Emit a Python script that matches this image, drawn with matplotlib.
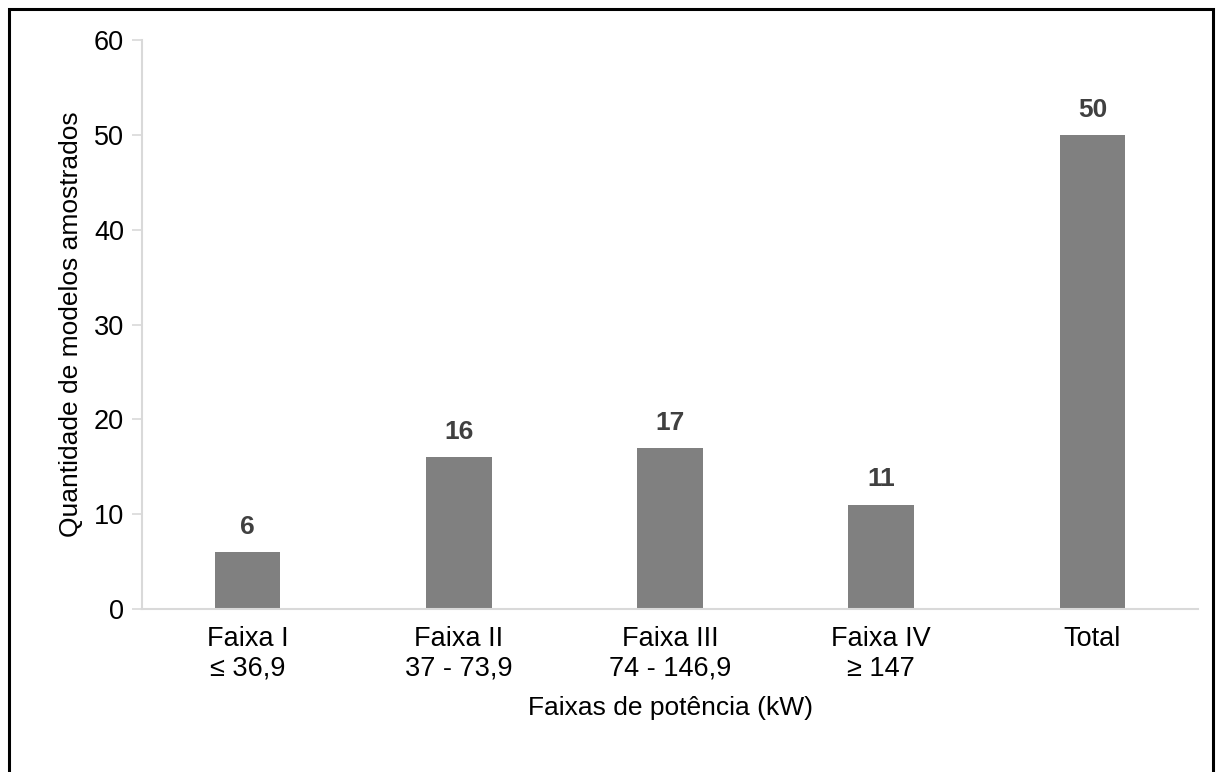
import matplotlib
matplotlib.use("Agg")
import matplotlib.pyplot as plt
from matplotlib.patches import Rectangle

plt.rcParams['font.family'] = ['Liberation Sans', 'DejaVu Sans']

# sample counts per power range
faixas = ["Faixa I\n≤ 36,9", "Faixa II\n37 - 73,9", "Faixa III\n74 - 146,9",
          "Faixa IV\n≥ 147", "Total"]
quantidades = [6, 16, 17, 11, 50]
yticks = [0, 10, 20, 30, 40, 50, 60]

fig = plt.figure(figsize=(12.18, 7.72), dpi=100)
ax = fig.add_axes([0.1166, 0.2111, 0.8670, 0.7371])

x = range(len(quantidades))
bars = ax.bar(x, quantidades, width=0.31, color='#808080', zorder=2)

for b, v in zip(bars, quantidades):
    ax.text(b.get_x() + b.get_width() / 2, v + 1.4, str(v), ha='center', va='bottom',
            fontsize=19, fontweight='bold', color='#404040')

ax.set_xlim(-0.5, len(quantidades) - 0.5)
ax.set_ylim(0, 60)
ax.set_yticks(yticks)
ax.set_xticks(list(x))
ax.set_xticklabels(faixas, fontsize=19.5, linespacing=1.2)
ax.tick_params(axis='y', labelsize=19.5, length=7, color='#d9d9d9', width=1.2, pad=6)
ax.tick_params(axis='x', length=0, pad=12)

for s in ['top', 'right']:
    ax.spines[s].set_visible(False)
for s in ['left', 'bottom']:
    ax.spines[s].set_color('#d9d9d9')
    ax.spines[s].set_linewidth(1.5)

ax.set_ylabel("Quantidade de modelos amostrados", fontsize=19, labelpad=8)
ax.set_xlabel("Faixas de potência (kW)", fontsize=19, labelpad=10)

# outer border, open at the bottom
fig.patches.append(Rectangle((8.5 / 1218, -0.1), (1213 - 8.5) / 1218, 1.1 - 8.5 / 772,
                             transform=fig.transFigure, fill=False,
                             edgecolor='black', linewidth=2.2))

fig.savefig("out.png", dpi=100)
